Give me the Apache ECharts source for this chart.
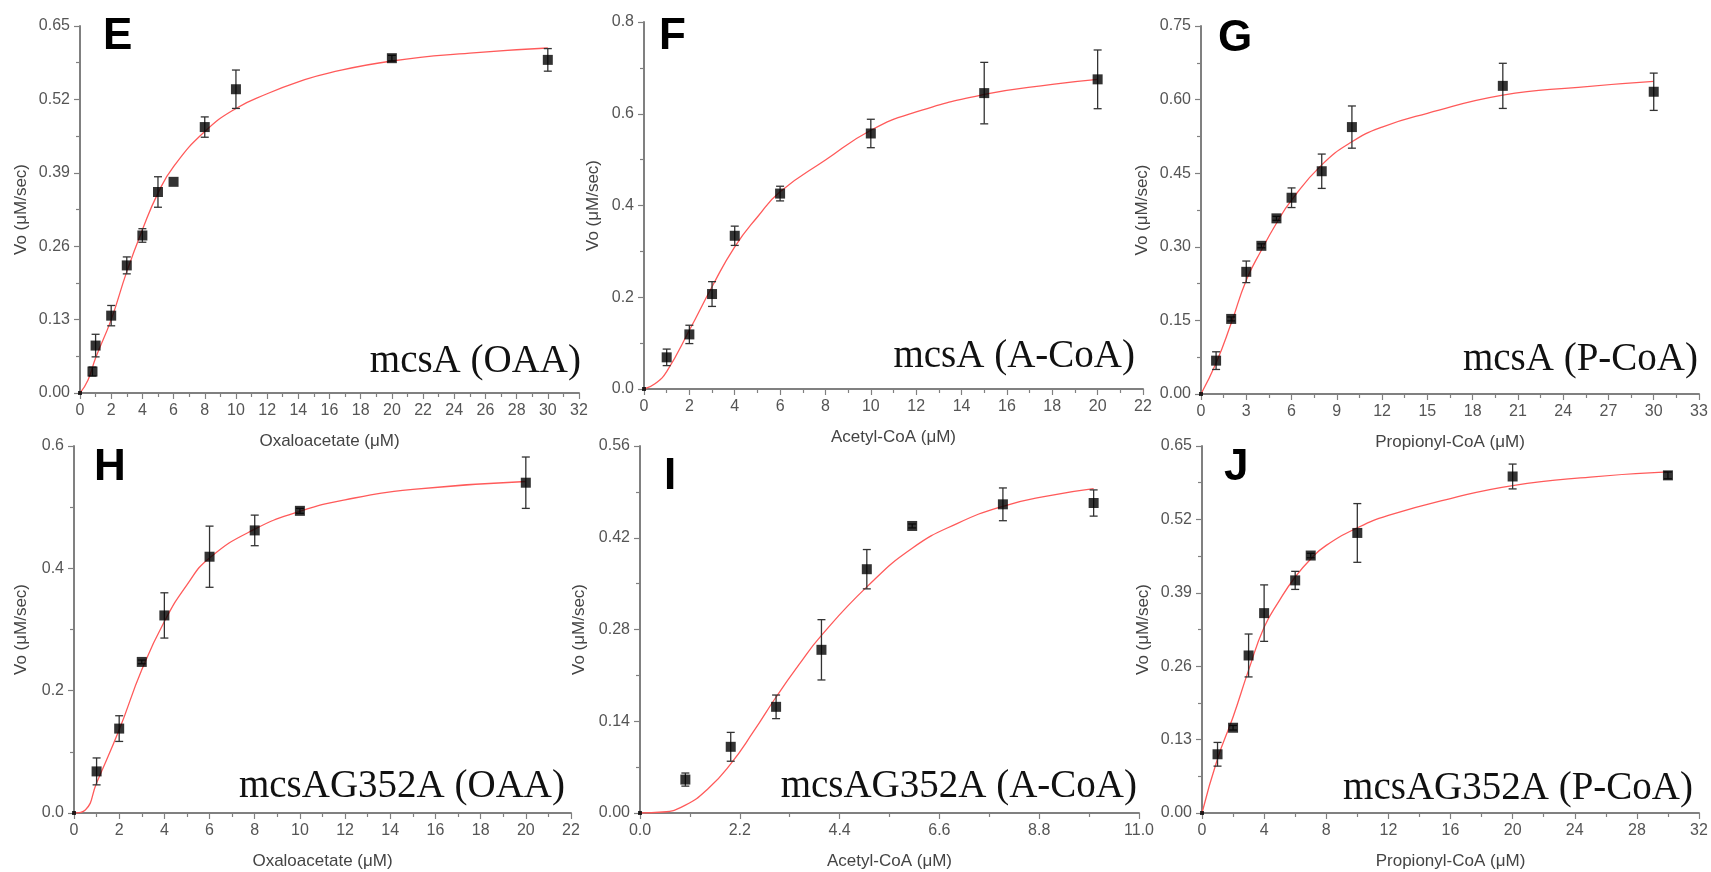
<!DOCTYPE html>
<html>
<head>
<meta charset="utf-8">
<title>mcsA kinetics</title>
<script src="https://cdn.jsdelivr.net/npm/echarts@6/dist/echarts.min.js"></script>
<style>
  html, body { margin: 0; padding: 0; background: #fff; }
  #chart { width: 1711px; height: 872px; }
</style>
</head>
<body>
<div id="chart"></div>
<script>
// ---- data (substrate in uM, Vo in uM/sec) ----
// E: mcsA, oxaloacetate
const eConc = [0, 0.8, 1, 2, 3, 4, 5, 6, 8, 10, 20, 30];
const eVo   = [0, 0.038, 0.084, 0.137, 0.226, 0.279, 0.356, 0.374, 0.471, 0.538, 0.593, 0.590];
const eErr  = [0, 0.008, 0.02, 0.018, 0.015, 0.012, 0.027, 0, 0.018, 0.034, 0.005, 0.02];
const eFitX = [0, 0.5, 1, 2, 3, 4, 5, 6, 8, 10, 12, 14, 16, 20, 25, 30];
const eFitY = [0, 0.022, 0.062, 0.130, 0.215, 0.289, 0.354, 0.401, 0.463, 0.504, 0.530, 0.551, 0.567, 0.588, 0.602, 0.611];

// F: mcsA, acetyl-CoA
const fConc = [0, 1, 2, 3, 4, 6, 10, 15, 20];
const fVo   = [0, 0.069, 0.119, 0.207, 0.334, 0.426, 0.557, 0.645, 0.675];
const fErr  = [0, 0.018, 0.02, 0.027, 0.021, 0.016, 0.031, 0.067, 0.064];
const fFitX = [0, 0.5, 1, 2, 3, 4, 5, 6, 8, 10, 12, 15, 18, 20];
const fFitY = [0, 0.012, 0.038, 0.128, 0.223, 0.310, 0.375, 0.430, 0.499, 0.564, 0.604, 0.642, 0.664, 0.675];

// G: mcsA, propionyl-CoA
const gConc = [0, 1, 2, 3, 4, 5, 6, 8, 10, 20, 30];
const gVo   = [0, 0.068, 0.153, 0.249, 0.302, 0.358, 0.400, 0.454, 0.544, 0.628, 0.616];
const gErr  = [0, 0.018, 0.004, 0.022, 0.004, 0.004, 0.02, 0.035, 0.043, 0.046, 0.038];
const gFitX = [0, 1, 2, 3, 4, 5, 6, 8, 10, 12, 15, 20, 25, 30];
const gFitY = [0, 0.063, 0.144, 0.232, 0.293, 0.348, 0.395, 0.467, 0.514, 0.544, 0.572, 0.609, 0.625, 0.637];

// H: mcsAG352A, oxaloacetate
const hConc = [0, 1, 2, 3, 4, 6, 8, 10, 20];
const hVo   = [0, 0.068, 0.138, 0.247, 0.323, 0.419, 0.462, 0.494, 0.540];
const hErr  = [0, 0.022, 0.021, 0.003, 0.037, 0.05, 0.025, 0.004, 0.042];
const hFitX = [0, 0.5, 1, 2, 3, 4, 5, 6, 8, 10, 12, 15, 20];
const hFitY = [0, 0.005, 0.049, 0.136, 0.234, 0.313, 0.373, 0.417, 0.464, 0.493, 0.512, 0.529, 0.542];

// I: mcsAG352A, acetyl-CoA
const iConc = [0, 1, 2, 3, 4, 5, 6, 8, 10];
const iVo   = [0, 0.051, 0.101, 0.162, 0.249, 0.372, 0.438, 0.471, 0.473];
const iErr  = [0, 0.01, 0.022, 0.018, 0.046, 0.03, 0.003, 0.025, 0.02];
const iFitX = [0, 0.5, 1, 1.5, 2, 2.5, 3, 3.5, 4, 5, 6, 7, 8, 9, 10];
const iFitY = [0, 0.0015, 0.012, 0.037, 0.075, 0.124, 0.177, 0.226, 0.271, 0.345, 0.404, 0.442, 0.468, 0.484, 0.495];

// J: mcsAG352A, propionyl-CoA
const jConc = [0, 1, 2, 3, 4, 6, 7, 10, 20, 30];
const jVo   = [0, 0.104, 0.151, 0.279, 0.354, 0.412, 0.456, 0.496, 0.596, 0.598];
const jErr  = [0, 0.021, 0.004, 0.038, 0.05, 0.016, 0.004, 0.052, 0.022, 0.006];
const jFitX = [0, 1, 2, 3, 4, 5, 6, 7, 8, 10, 12, 16, 20, 25, 30];
const jFitY = [0, 0.096, 0.170, 0.253, 0.329, 0.377, 0.418, 0.450, 0.474, 0.505, 0.527, 0.557, 0.580, 0.595, 0.604];

// axis ranges and labels
const panelLetters = ['E', 'F', 'G', 'H', 'I', 'J'];
const panelNames = ['mcsA (OAA)', 'mcsA (A-CoA)', 'mcsA (P-CoA)',
                    'mcsAG352A (OAA)', 'mcsAG352A (A-CoA)', 'mcsAG352A (P-CoA)'];
const xNames = ['Oxaloacetate (μM)', 'Acetyl-CoA (μM)', 'Propionyl-CoA (μM)',
                'Oxaloacetate (μM)', 'Acetyl-CoA (μM)', 'Propionyl-CoA (μM)'];
const xMax = [32, 22, 33, 22, 11, 32];
const xStep = [2, 2, 3, 2, 2.2, 4];
const xDigits = [0, 0, 0, 0, 1, 0];
const yMax = [0.65, 0.8, 0.75, 0.6, 0.56, 0.65];
const yStep = [0.13, 0.2, 0.15, 0.2, 0.14, 0.13];
const yDigits = [2, 1, 2, 1, 2, 2];

const panels = [
  [eConc, eVo, eErr, eFitX, eFitY],
  [fConc, fVo, fErr, fFitX, fFitY],
  [gConc, gVo, gErr, gFitX, gFitY],
  [hConc, hVo, hErr, hFitX, hFitY],
  [iConc, iVo, iErr, iFitX, iFitY],
  [jConc, jVo, jErr, jFitX, jFitY]
];

// plot boxes in px: left, top, width, height
const boxes = [
  [80, 26, 499, 367],
  [644, 22, 499, 367],
  [1201, 26, 498, 368],
  [74, 446, 497, 367],
  [640, 446, 499, 367],
  [1202, 446, 497, 367]
];
const yNameGap = [50, 42, 50, 44, 52, 50];

const axisGray = '#808080';
const labelGray = '#555';

const chart = echarts.init(document.getElementById('chart'));

const grid = [], xAxis = [], yAxis = [], series = [], graphic = [];

panels.forEach(function (p, i) {
  const b = boxes[i];
  grid.push({ left: b[0], top: b[1], width: b[2], height: b[3], containLabel: false });

  xAxis.push({
    type: 'value', gridIndex: i, min: 0, max: xMax[i], interval: xStep[i],
    name: xNames[i], nameLocation: 'middle', nameGap: 40,
    nameTextStyle: { color: '#444', fontSize: 17, fontFamily: 'Liberation Sans' },
    axisLine: { show: true, onZero: false, lineStyle: { color: axisGray, width: 2 } },
    axisTick: { show: true, length: 6, lineStyle: { color: axisGray, width: 1.2 } },
    minorTick: { show: true, splitNumber: 2, length: 4, lineStyle: { color: axisGray, width: 1.2 } },
    splitLine: { show: false },
    axisLabel: {
      color: labelGray, fontSize: 16, fontFamily: 'Liberation Sans', margin: 10,
      formatter: function (v) { return v.toFixed(xDigits[i]); }
    }
  });

  yAxis.push({
    type: 'value', gridIndex: i, min: 0, max: yMax[i], interval: yStep[i],
    name: 'Vo (μM/sec)', nameLocation: 'middle', nameGap: yNameGap[i],
    nameTextStyle: { color: '#444', fontSize: 17, fontFamily: 'Liberation Sans' },
    axisLine: { show: true, onZero: false, lineStyle: { color: axisGray, width: 2 } },
    axisTick: { show: true, length: 6, lineStyle: { color: axisGray, width: 1.2 } },
    minorTick: { show: true, splitNumber: 2, length: 4, lineStyle: { color: axisGray, width: 1.2 } },
    splitLine: { show: false },
    axisLabel: {
      color: labelGray, fontSize: 16, fontFamily: 'Liberation Sans', margin: 10,
      formatter: function (v) { return v.toFixed(yDigits[i]); }
    }
  });

  const conc = p[0], vo = p[1], err = p[2], fitX = p[3], fitY = p[4];

  // fitted curve
  series.push({
    type: 'line', xAxisIndex: i, yAxisIndex: i,
    data: fitX.map(function (x, k) { return [x, fitY[k]]; }),
    smooth: 0.5, showSymbol: false, symbol: 'none',
    lineStyle: { color: '#ff5a5a', width: 1.3 }, z: 2, silent: true
  });

  // error bars
  series.push({
    type: 'custom', xAxisIndex: i, yAxisIndex: i,
    data: conc.map(function (x, k) { return [x, vo[k] - err[k], vo[k] + err[k]]; })
              .filter(function (d, k) { return err[k] > 0; }),
    encode: { x: 0, y: [1, 2] },
    renderItem: function (params, api) {
      const x = api.value(0);
      const lo = api.coord([x, api.value(1)]);
      const hi = api.coord([x, api.value(2)]);
      const w = 4;
      const st = { stroke: '#333', lineWidth: 1.3 };
      return {
        type: 'group',
        children: [
          { type: 'line', shape: { x1: lo[0], y1: lo[1], x2: hi[0], y2: hi[1] }, style: st },
          { type: 'line', shape: { x1: lo[0] - w, y1: lo[1], x2: lo[0] + w, y2: lo[1] }, style: st },
          { type: 'line', shape: { x1: hi[0] - w, y1: hi[1], x2: hi[0] + w, y2: hi[1] }, style: st }
        ]
      };
    },
    z: 3, silent: true
  });

  // measured points
  series.push({
    type: 'scatter', xAxisIndex: i, yAxisIndex: i,
    data: conc.map(function (x, k) { return [x, vo[k]]; }),
    symbol: 'rect',
    symbolSize: function (v) { return v[0] === 0 ? 4 : 10; },
    itemStyle: { color: '#000' }, z: 4, silent: true
  });
});

// panel letters and construct labels
const letterPos = [[103, 37], [659, 37], [1218, 39], [94, 468], [664, 477], [1224, 468]];
const namePos = [[581, 362], [1135, 357], [1698, 360], [565, 787], [1137, 787], [1693, 789]];
panelLetters.forEach(function (t, i) {
  graphic.push({
    type: 'text', x: letterPos[i][0], y: letterPos[i][1],
    style: { text: t, fill: '#000', font: 'bold 44px "Liberation Sans"',
             textAlign: 'left', textVerticalAlign: 'middle' },
    z: 10
  });
  graphic.push({
    type: 'text', x: namePos[i][0], y: namePos[i][1],
    style: { text: panelNames[i], fill: '#111', font: '39px "Liberation Serif"',
             textAlign: 'right', textVerticalAlign: 'middle' },
    z: 10
  });
});

chart.setOption({
  animation: false,
  backgroundColor: '#fff',
  grid: grid,
  xAxis: xAxis,
  yAxis: yAxis,
  series: series,
  graphic: graphic
});

window.addEventListener('resize', function () {
  chart.resize();
});
</script>
</body>
</html>
